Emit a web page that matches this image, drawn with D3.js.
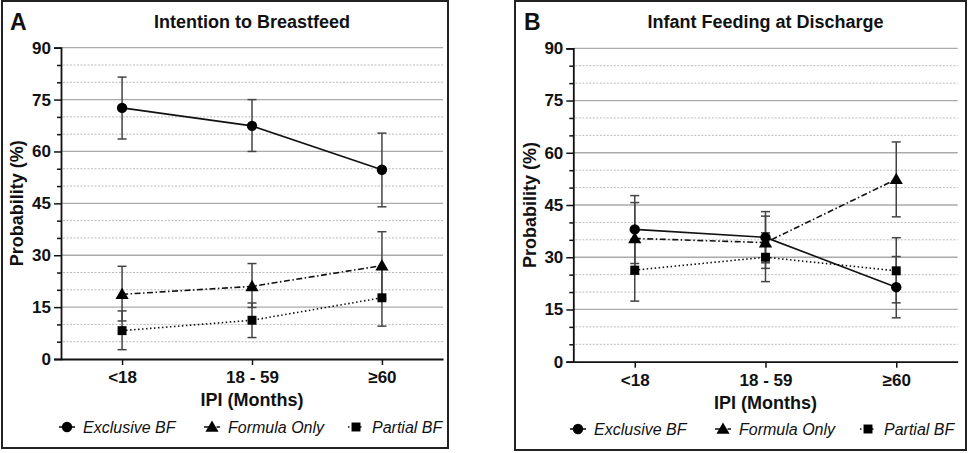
<!DOCTYPE html>
<meta charset="utf-8">
<head>
<title>IPI feeding probability</title>
<script src="https://cdn.jsdelivr.net/npm/d3@7"></script>
<style>
body { margin:0; background:#fff; }
text { font-family:"Liberation Sans", Arial, sans-serif; fill:#111; }
</style>
</head>
<body>
<svg id=mySVG width=969 height=453></svg>

<script>
// ---- data ----
var categories=["<18","18 - 59","\u226560"]
var seriesNames=["Exclusive BF","Formula Only","Partial BF"]
var yTicks=[0,15,30,45,60,75,90]

// panel A - intention to breastfeed
var exclusiveA=[72.6,67.4,54.7]
var exclusiveALo=[63.6,60.0,44.0]
var exclusiveAHi=[81.5,75.0,65.3]
var formulaA=[18.7,21.0,27.0]
var formulaALo=[11.0,14.9,17.5]
var formulaAHi=[26.8,27.6,36.8]
var partialA=[8.2,11.2,17.7]
var partialALo=[2.7,6.2,9.5]
var partialAHi=[13.9,16.2,26.0]

// panel B - infant feeding at discharge
var exclusiveB=[38.0,35.7,21.4]
var exclusiveBLo=[28.2,28.4,12.6]
var exclusiveBHi=[47.7,43.1,30.2]
var formulaB=[35.4,34.2,52.4]
var formulaBLo=[25.1,26.8,41.6]
var formulaBHi=[45.7,41.8,63.1]
var partialB=[26.3,30.0,26.1]
var partialBLo=[17.4,23.0,16.9]
var partialBHi=[35.2,37.0,35.6]

var svg=d3.select("#mySVG")

//---line style + marker per series---
var dashes=[null,"6,2.5,1.5,2.5","1.5,2.5"]
var symbols=[d3.symbolCircle,d3.symbolTriangle,d3.symbolSquare]
var symSizes=[85,75,80]

function buildPanel(p)
{
    var g=svg.append("g")

    g.append("rect")
    .attr("x",p.box[0]).attr("y",p.box[1])
    .attr("width",p.box[2]).attr("height",p.box[3])
    .attr("fill","none").attr("stroke","#222").attr("stroke-width",2)

    g.append("text").text(p.letter)
    .attr("x",p.letterX).attr("y",30)
    .attr("font-size",23).attr("font-weight","bold")

    g.append("text").text(p.title)
    .attr("x",(p.left+p.right)/2).attr("y",28)
    .attr("text-anchor","middle")
    .attr("font-size",18).attr("font-weight","bold")

    var y=d3.scaleLinear().domain([0,90]).range([p.bottom,p.top])
    var x=d3.scalePoint().domain(categories).range([p.left,p.right]).padding(0.47)

    //---grid lines---
    var minor=d3.range(5,90,5).filter(function(v){return v%15!=0})
    g.selectAll(".minorGrid").data(minor).enter().append("line")
    .attr("x1",p.left+2).attr("x2",p.right)
    .attr("y1",function(d){return y(d)}).attr("y2",function(d){return y(d)})
    .attr("stroke","#bbb").attr("stroke-width",1).attr("stroke-dasharray","2,1.5")

    g.selectAll(".majorGrid").data(yTicks.slice(1)).enter().append("line")
    .attr("x1",p.left).attr("x2",p.right)
    .attr("y1",function(d){return y(d)}).attr("y2",function(d){return y(d)})
    .attr("stroke","#aaa").attr("stroke-width",1.3)

    //---axes---
    var yAxisG=g.append("g").attr("transform","translate("+p.left+",0)")
    .call(d3.axisLeft(y).tickValues(yTicks).tickSize(7).tickPadding(3))
    yAxisG.append("g").call(d3.axisLeft(y).tickValues(minor).tickSize(4).tickFormat(""))
    yAxisG.selectAll(".domain").attr("stroke","#111").attr("stroke-width",1.8)
    yAxisG.selectAll(".tick line").attr("stroke","#111").attr("stroke-width",1.5)
    yAxisG.selectAll("text").attr("font-size",17).attr("font-weight","bold")
    .attr("font-family","Liberation Sans, Arial, sans-serif").attr("fill","#111")
    yAxisG.selectAll(".domain").filter(function(d,i){return i>0}).remove()

    var xAxisG=g.append("g").attr("transform","translate(0,"+p.bottom+")")
    .call(d3.axisBottom(x).tickSize(6).tickPadding(6).tickSizeOuter(0))
    xAxisG.select(".domain").attr("stroke","#111").attr("stroke-width",1.8)
    xAxisG.selectAll(".tick line").attr("stroke","#111").attr("stroke-width",1.5)
    xAxisG.selectAll("text").attr("font-size",17).attr("font-weight","bold")
    .attr("font-family","Liberation Sans, Arial, sans-serif").attr("fill","#111")

    g.append("text").text("IPI (Months)")
    .attr("x",(p.left+p.right)/2).attr("y",p.bottom+47)
    .attr("text-anchor","middle")
    .attr("font-size",18).attr("font-weight","bold")

    g.append("text").text("Probability (%)")
    .attr("transform","translate("+p.yTitleX+","+((p.top+p.bottom)/2)+") rotate(-90)")
    .attr("text-anchor","middle")
    .attr("font-size",18).attr("font-weight","bold")

    //---error bars---
    p.series.forEach(function(s){
        var eb=g.append("g")
        categories.forEach(function(c,i){
            var cx=x(c)
            eb.append("line").attr("x1",cx).attr("x2",cx)
            .attr("y1",y(s.lo[i])).attr("y2",y(s.hi[i]))
            .attr("stroke","#444").attr("stroke-width",1.5)
            ;[s.lo[i],s.hi[i]].forEach(function(v){
                eb.append("line").attr("x1",cx-4.5).attr("x2",cx+4.5)
                .attr("y1",y(v)).attr("y2",y(v))
                .attr("stroke","#444").attr("stroke-width",1.5)
            })
        })
    })

    //---lines + markers---
    p.series.forEach(function(s,k){
        var line=d3.line().x(function(d,i){return x(categories[i])}).y(function(d){return y(d)})
        g.append("path").datum(s.mean)
        .attr("d",line).attr("fill","none")
        .attr("stroke","#111").attr("stroke-width",1.6)
        .attr("stroke-dasharray",dashes[k])

        g.selectAll(".m"+k).data(s.mean).enter().append("path")
        .attr("d",d3.symbol().type(symbols[k]).size(symSizes[k]))
        .attr("transform",function(d,i){return "translate("+x(categories[i])+","+(y(d)+(k==1?1:0))+")"})
        .attr("fill","#000")
    })

    //---legend---
    seriesNames.forEach(function(name,k){
        var mx=p.legendX[k]
        g.append("line").attr("x1",mx-8).attr("x2",mx+8)
        .attr("y1",p.legendY).attr("y2",p.legendY)
        .attr("stroke","#111").attr("stroke-width",1.6)
        .attr("stroke-dasharray",dashes[k])
        g.append("path")
        .attr("d",d3.symbol().type(symbols[k]).size(symSizes[k]))
        .attr("transform","translate("+mx+","+(p.legendY+(k==1?1:0))+")")
        .attr("fill","#000")
        g.append("text").text(name)
        .attr("x",mx+16).attr("y",p.legendY).attr("dy","0.35em")
        .attr("font-size",16).attr("font-style","italic")
    })
}

buildPanel({
    letter:"A", letterX:10, title:"Intention to Breastfeed",
    box:[2,1,446,447],
    left:61, right:443, top:47.7, bottom:359, yTitleX:23,
    legendX:[67,212,356], legendY:427,
    series:[
        {mean:exclusiveA,lo:exclusiveALo,hi:exclusiveAHi},
        {mean:formulaA,lo:formulaALo,hi:formulaAHi},
        {mean:partialA,lo:partialALo,hi:partialAHi}
    ]
})

buildPanel({
    letter:"B", letterX:524, title:"Infant Feeding at Discharge",
    box:[515,1,451,449],
    left:573.3, right:957.7, top:48.3, bottom:361.7, yTitleX:536,
    legendX:[578,723,868], legendY:429,
    series:[
        {mean:exclusiveB,lo:exclusiveBLo,hi:exclusiveBHi},
        {mean:formulaB,lo:formulaBLo,hi:formulaBHi},
        {mean:partialB,lo:partialBLo,hi:partialBHi}
    ]
})
</script>
</body>
